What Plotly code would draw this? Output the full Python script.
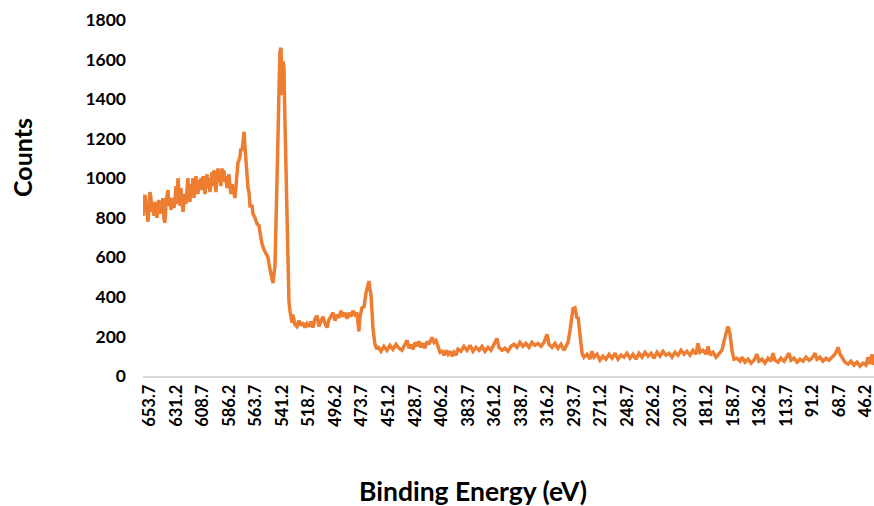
import plotly.graph_objects as go

# Binding energy (eV) and counts
energy = [
    659.6, 658.8, 657.9, 657.1, 656.2, 655.4, 654.5, 653.7, 652.9, 652.0,
    651.2, 650.3, 649.5, 648.6, 647.8, 646.9, 646.1, 645.2, 644.4, 643.5,
    642.7, 641.8, 641.0, 640.1, 639.3, 638.4, 637.6, 636.7, 635.9, 635.0,
    634.2, 633.3, 632.5, 631.6, 630.8, 629.9, 629.1, 628.2, 627.4, 626.5,
    625.7, 624.8, 624.0, 623.2, 622.3, 621.5, 620.6, 619.8, 618.9, 618.1,
    617.2, 616.4, 615.5, 614.7, 613.8, 613.0, 612.1, 611.3, 610.4, 609.6,
    608.7, 607.9, 607.0, 606.2, 605.3, 604.5, 603.6, 602.8, 601.9, 601.1,
    600.2, 599.4, 598.5, 597.7, 596.8, 596.0, 595.2, 594.3, 593.5, 592.6,
    591.8, 590.9, 590.1, 589.2, 588.4, 587.5, 586.7, 585.8, 585.0, 584.1,
    583.3, 582.4, 581.6, 580.7, 579.9, 579.0, 578.2, 577.3, 576.5, 575.6,
    574.8, 573.9, 573.1, 572.2, 571.4, 570.5, 569.7, 568.8, 567.1, 566.3,
    564.6, 562.9, 561.2, 560.4, 558.7, 557.0, 555.3, 553.6, 551.9, 550.2,
    549.3, 547.6, 546.8, 545.9, 545.1, 544.2, 543.4, 542.5, 541.7, 540.8,
    540.0, 539.2, 538.3, 537.5, 536.6, 535.8, 534.9, 534.1, 533.2, 532.4,
    531.5, 530.7, 529.0, 527.3, 525.6, 523.9, 522.2, 520.5, 518.8, 517.1,
    515.4, 513.7, 512.0, 510.3, 508.6, 506.9, 505.2, 503.5, 501.8, 500.1,
    498.4, 496.7, 495.0, 493.3, 491.6, 489.9, 488.2, 486.5, 484.8, 483.2,
    481.5, 479.8, 478.1, 476.4, 475.5, 473.8, 472.1, 470.4, 468.7, 467.9,
    467.0, 466.2, 465.3, 464.5, 462.8, 461.1, 460.2, 457.7, 455.2, 452.6,
    450.1, 447.5, 445.0, 442.4, 439.9, 437.3, 435.6, 433.9, 432.2, 430.5,
    428.8, 427.2, 425.5, 423.8, 422.1, 420.4, 418.7, 417.0, 414.4, 412.7,
    411.0, 409.3, 407.6, 405.9, 404.2, 402.5, 400.8, 399.1, 397.5, 395.8,
    394.1, 392.4, 389.8, 387.3, 384.7, 382.2, 379.6, 377.1, 374.5, 372.0,
    369.5, 366.9, 364.4, 361.8, 359.3, 357.6, 355.0, 352.5, 349.9, 347.4,
    344.8, 342.3, 339.8, 337.2, 334.7, 332.1, 329.6, 327.0, 324.5, 321.9,
    319.4, 316.8, 315.1, 312.6, 310.1, 307.5, 305.0, 302.4, 300.7, 299.0,
    297.3, 295.6, 294.8, 293.1, 291.4, 290.5, 288.8, 287.1, 285.5, 282.9,
    280.4, 278.7, 277.0, 274.4, 271.9, 269.3, 266.8, 264.2, 261.7, 259.1,
    256.6, 254.1, 251.5, 249.0, 246.4, 243.9, 241.3, 238.8, 236.2, 233.7,
    231.1, 228.6, 226.1, 223.5, 221.0, 218.4, 215.9, 213.3, 210.8, 208.2,
    205.7, 203.1, 200.6, 198.1, 195.5, 193.0, 190.4, 188.7, 187.0, 184.5,
    181.9, 180.2, 178.5, 176.0, 173.4, 170.9, 168.4, 166.7, 165.0, 163.3,
    161.6, 159.9, 158.2, 155.6, 153.1, 151.4, 148.8, 146.3, 143.7, 141.2,
    138.7, 137.0, 134.4, 131.9, 129.3, 126.8, 125.1, 123.4, 120.8, 118.3,
    115.7, 113.2, 111.5, 109.8, 107.3, 104.7, 102.2, 99.6, 97.1, 94.5,
    92.0, 89.4, 87.8, 85.2, 82.7, 80.1, 77.6, 75.0, 72.5, 70.8,
    69.9, 68.2, 66.5, 64.0, 61.4, 58.9, 56.4, 53.8, 51.3, 48.7,
    46.2, 44.5, 42.8, 41.1, 39.4,
]

counts = [
    810, 900, 915, 860, 800, 780, 850, 930, 900, 830,
    870, 810, 880, 830, 800, 860, 890, 820, 870, 830,
    900, 790, 775, 880, 930, 940, 860, 900, 840, 870,
    900, 850, 880, 960, 870, 1000, 900, 860, 950, 900,
    830, 880, 920, 870, 960, 1000, 920, 880, 970, 930,
    1000, 900, 940, 1010, 960, 920, 990, 950, 1000, 940,
    1010, 970, 920, 980, 1020, 950, 1000, 930, 980, 1030,
    960, 1040, 990, 930, 1000, 1050, 980, 1020, 960, 1050,
    990, 1040, 980, 1010, 950, 990, 1020, 960, 920, 970,
    940, 910, 900, 960, 1030, 1080, 1090, 1110, 1150, 1140,
    1180, 1235, 1160, 1080, 1010, 950, 930, 860, 860, 820,
    800, 770, 760, 720, 670, 640, 620, 600, 540, 490,
    470, 560, 720, 900, 1200, 1450, 1640, 1660, 1420, 1590,
    1560, 1300, 1000, 720, 470, 380, 330, 280, 270, 310,
    270, 260, 250, 280, 255, 270, 245, 265, 250, 275,
    245, 290, 305, 250, 280, 300, 265, 245, 285, 305,
    320, 280, 310, 295, 330, 300, 320, 290, 320, 300,
    330, 310, 320, 225, 300, 345, 350, 420, 470, 480,
    440, 410, 330, 240, 160, 135, 150, 125, 150, 130,
    155, 135, 160, 140, 130, 165, 180, 140, 160, 135,
    170, 150, 175, 145, 165, 140, 175, 160, 195, 170,
    180, 150, 120, 125, 105, 130, 110, 125, 100, 120,
    105, 135, 125, 150, 130, 155, 125, 145, 130, 150,
    125, 145, 130, 160, 190, 145, 130, 140, 125, 150,
    160, 145, 170, 150, 165, 145, 170, 155, 165, 150,
    170, 210, 160, 145, 165, 140, 160, 130, 155, 170,
    230, 300, 340, 345, 290, 300, 200, 115, 95, 110,
    85, 125, 95, 110, 80, 100, 85, 110, 90, 115,
    85, 105, 95, 115, 90, 110, 85, 115, 95, 120,
    100, 115, 90, 120, 100, 125, 105, 115, 95, 120,
    105, 130, 110, 125, 105, 130, 110, 165, 120, 130,
    110, 150, 105, 120, 95, 110, 130, 175, 220, 250,
    215, 130, 85, 90, 75, 95, 70, 85, 65, 80,
    110, 75, 85, 65, 90, 75, 115, 80, 70, 90,
    75, 95, 115, 80, 90, 70, 85, 75, 95, 80,
    90, 115, 85, 95, 75, 90, 80, 95, 110, 130,
    145, 110, 90, 70, 60, 75, 55, 70, 50, 65,
    55, 95, 60, 110, 55,
]

tick_vals = [653.7, 631.2, 608.7, 586.2, 563.7, 541.2, 518.7, 496.2, 473.7,
             451.2, 428.7, 406.2, 383.7, 361.2, 338.7, 316.2, 293.7, 271.2,
             248.7, 226.2, 203.7, 181.2, 158.7, 136.2, 113.7, 91.2, 68.7, 46.2]
tick_text = [f"{v:.1f}" for v in tick_vals]
y_ticks = [0, 200, 400, 600, 800, 1000, 1200, 1400, 1600, 1800]

FONT = "Lato, 'Open Sans', sans-serif"
W, H = 874, 506
ML, MR, MT, MB = 143, 0, 20, 130

fig = go.Figure()
fig.add_trace(go.Scatter(
    x=energy, y=counts, mode="lines",
    line=dict(color="#ED7D31", width=3.5),
    showlegend=False, hoverinfo="x+y",
))

pw = W - ML - MR
ph = H - MT - MB


def px_to_paper(x, y):
    return (x - ML) / pw, (H - MB - y) / ph


tx, ty = px_to_paper(473, 491)
cx, cy = px_to_paper(22, 157)

fig.update_layout(
    width=W, height=H,
    margin=dict(l=ML, r=MR, t=MT, b=MB, autoexpand=False),
    paper_bgcolor="white", plot_bgcolor="white",
    xaxis=dict(
        range=[energy[0], energy[-1]],
        tickmode="array", tickvals=tick_vals, ticktext=tick_text,
        tickangle=-90,
        tickfont=dict(family=FONT, size=16.5, color="#000000", weight="bold"),
        showgrid=False, zeroline=False,
        showline=True, linecolor="#D9D9D9", linewidth=2,
        ticks="", ticklabelstandoff=0, ticklabeloverflow="allow",
    ),
    yaxis=dict(
        range=[0, 1800],
        tickmode="array", tickvals=y_ticks,
        tickfont=dict(family=FONT, size=17.5, color="#000000", weight="bold"),
        showgrid=False, zeroline=False, showline=False,
        ticks="", ticklabelstandoff=16,
    ),
    annotations=[
        dict(text="Binding Energy (eV)", x=tx, y=ty, xref="paper", yref="paper",
             xanchor="center", yanchor="middle", showarrow=False,
             font=dict(family=FONT, size=26.5, color="#000000", weight="bold")),
        dict(text="Counts", x=cx, y=cy, xref="paper", yref="paper", textangle=-90,
             xanchor="center", yanchor="middle", showarrow=False,
             font=dict(family=FONT, size=25, color="#000000", weight="bold")),
    ],
)

fig.write_html(
    "out.html",
    config={"displayModeBar": False},
    post_script="document.body.style.margin='0';document.body.style.overflow='hidden';",
)
